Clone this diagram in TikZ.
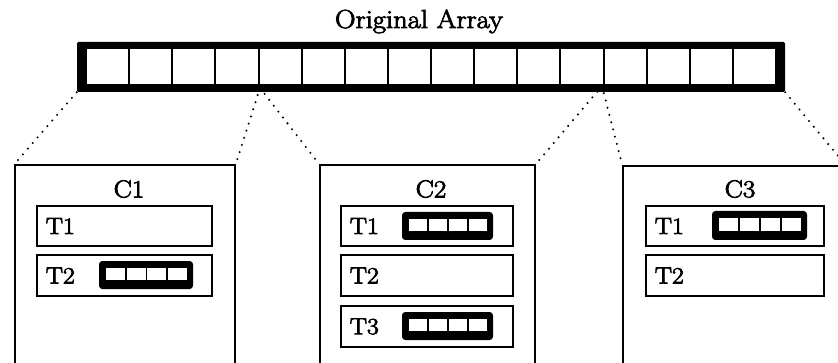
\documentclass[tikz,border=0pt]{standalone}
\usepackage{graphicx}
\usepackage{fontspec}
\newfontfamily\labelfont{Latin Modern Roman}[FakeBold=3]
\usetikzlibrary{fit}

\tikzset{
  chunkbox/.style={draw, line width=1.1pt, inner sep=0pt},
  taskbox/.style={draw, line width=1.1pt, inner sep=0pt},
  arrbody/.style={fill=black, inner sep=0pt, rounded corners=2.5pt},
  bigbody/.style={fill=black, inner sep=0pt, rounded corners=1pt},
  cutline/.style={line width=1.7pt, dash pattern=on 0pt off 5.6pt, line cap=round},
  titletext/.style={font=\labelfont\fontsize{19.5}{21}\selectfont, inner sep=0pt},
  chunktext/.style={font=\labelfont\fontsize{18.5}{20}\selectfont, inner sep=0pt},
  tasktext/.style={font=\labelfont\fontsize{17.5}{19}\selectfont, inner sep=0pt, anchor=west},
}

% a small four-element array: name, x1, y1, x2, y2
\newcommand\minarray[5]{%
  \node[arrbody, fit={(#2,#3) (#4,#5)}] (#1) {};
  \pgfmathsetmacro\cw{(#4-#2-11)/4}
  \foreach \k in {0,...,3}
    \fill[white] ({#2+6+\k*\cw+0.9},{#3+7}) rectangle ({#2+6+(\k+1)*\cw-0.9},{#5-9});
}

\newcommand\wide[1]{\scalebox{1.1}[1]{#1}}

\begin{document}
\begin{tikzpicture}[x=0.75pt, y=-0.75pt]
  \clip (0,0) rectangle (838,363);
  \fill[white] (0,0) rectangle (838,363);

  % title and the original array of 16 elements
  \node[titletext, anchor=base] (title) at (419,28) {\wide{Original Array}};
  \node[bigbody, fit={(77,42) (785,92)}] (orig) {};
  \foreach \k in {0,...,15}
    \fill[white] ({86+\k*43.125+1},49) rectangle ({86+(\k+1)*43.125-1},84);

  % chunk boxes (open towards the bottom)
  \node[chunkbox, fit={(15,165) (235,420)}] (c1) {};
  \node[chunkbox, fit={(320,165) (535,420)}] (c2) {};
  \node[chunkbox, fit={(623,166) (845,420)}] (c3) {};

  \node[chunktext] (c1lab) at (129,189) {\wide{C1}};
  \node[chunktext] (c2lab) at (431,189) {\wide{C2}};
  \node[chunktext] (c3lab) at (740,189) {\wide{C3}};

  % task rows
  \node[taskbox, fit={(37,206) (212,246)}] (c1t1) {};
  \node[taskbox, fit={(37,255) (212,296)}] (c1t2) {};
  \node[taskbox, fit={(341,206) (513,246)}] (c2t1) {};
  \node[taskbox, fit={(341,255) (513,296)}] (c2t2) {};
  \node[taskbox, fit={(341,306) (513,347)}] (c2t3) {};
  \node[taskbox, fit={(646,206) (824,246)}] (c3t1) {};
  \node[taskbox, fit={(646,255) (824,296)}] (c3t2) {};

  \node[tasktext] (c1t1lab) at ([xshift=7pt]c1t1.west) {\wide{T1}};
  \node[tasktext] (c1t2lab) at ([xshift=7pt]c1t2.west) {\wide{T2}};
  \node[tasktext] (c2t1lab) at ([xshift=7pt]c2t1.west) {\wide{T1}};
  \node[tasktext] (c2t2lab) at ([xshift=7pt]c2t2.west) {\wide{T2}};
  \node[tasktext] (c2t3lab) at ([xshift=7pt]c2t3.west) {\wide{T3}};
  \node[tasktext] (c3t1lab) at ([xshift=7pt]c3t1.west) {\wide{T1}};
  \node[tasktext] (c3t2lab) at ([xshift=7pt]c3t2.west) {\wide{T2}};

  % local arrays held by tasks
  \minarray{a12}{99}{261}{193}{289}
  \minarray{a21}{402}{212}{493}{240}
  \minarray{a23}{402}{312}{493}{340}
  \minarray{a31}{712}{211}{807}{240}

  % dotted lines from the array to the chunks
  \coordinate (cut1) at (260,88);
  \coordinate (cut2) at (602,86);
  \draw[cutline] (orig.south west) -- (c1.north west);
  \draw[cutline] (cut1) -- (c1.north east);
  \draw[cutline] (cut1) -- (c2.north west);
  \draw[cutline] (cut2) -- (c2.north east);
  \draw[cutline] (cut2) -- (c3.north west);
  \draw[cutline] (orig.south east) -- (c3.north east);
\end{tikzpicture}
\end{document}
